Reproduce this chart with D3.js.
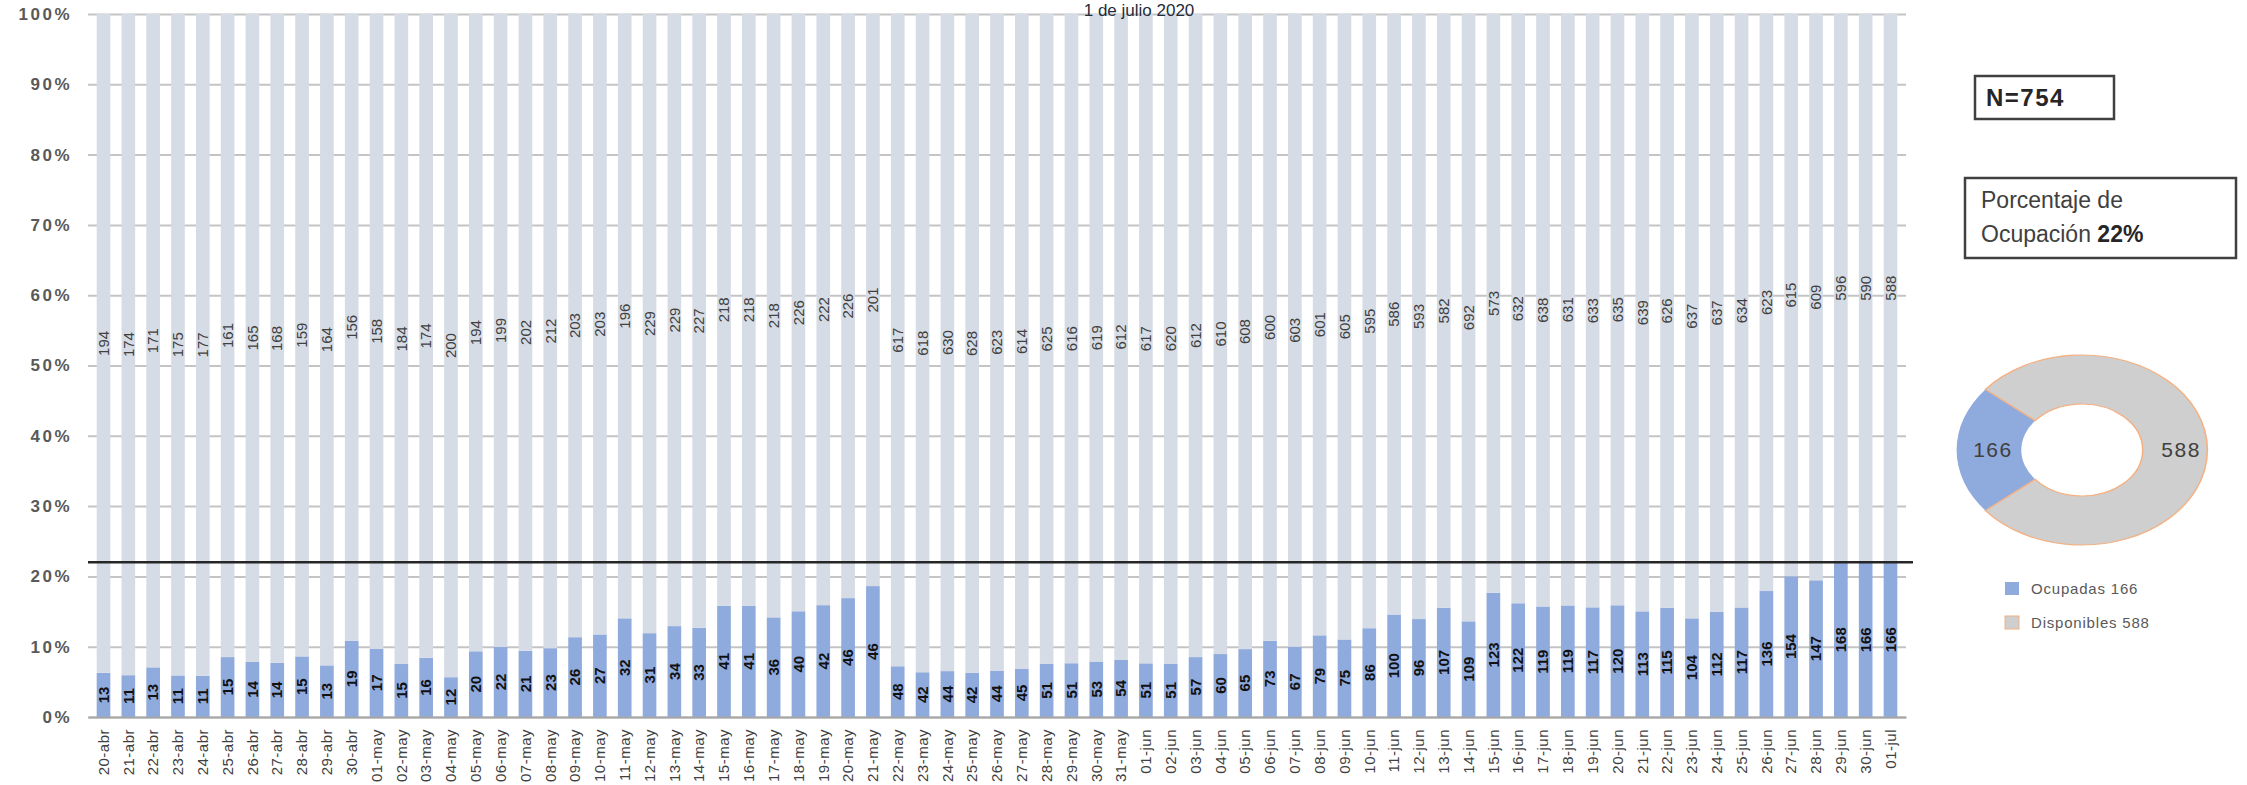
<!DOCTYPE html>
<html>
<head>
<meta charset="utf-8">
<script src="https://cdn.jsdelivr.net/npm/d3@7"></script>
<style>
  body { margin: 0; background: #fff; }
  text { font-family: "Liberation Sans", Arial, sans-serif; }
</style>
</head>
<body>
<div id="chart-wrapper"></div>
<script>
// Dates on the x axis
const fechas = [
  "20-abr","21-abr","22-abr","23-abr","24-abr","25-abr","26-abr","27-abr","28-abr","29-abr","30-abr",
  "01-may","02-may","03-may","04-may","05-may","06-may","07-may","08-may","09-may","10-may",
  "11-may","12-may","13-may","14-may","15-may","16-may","17-may","18-may","19-may","20-may",
  "21-may","22-may","23-may","24-may","25-may","26-may","27-may","28-may","29-may","30-may","31-may",
  "01-jun","02-jun","03-jun","04-jun","05-jun","06-jun","07-jun","08-jun","09-jun","10-jun",
  "11-jun","12-jun","13-jun","14-jun","15-jun","16-jun","17-jun","18-jun","19-jun","20-jun",
  "21-jun","22-jun","23-jun","24-jun","25-jun","26-jun","27-jun","28-jun","29-jun","30-jun",
  "01-jul"
];

// Occupied beds
const ocupadas = [
  13,11,13,11,11,15,14,14,15,13,19,
  17,15,16,12,20,22,21,23,26,27,
  32,31,34,33,41,41,36,40,42,46,
  46,48,42,44,42,44,45,51,51,53,54,
  51,51,57,60,65,73,67,79,75,86,
  100,96,107,109,123,122,119,119,117,120,
  113,115,104,112,117,136,154,147,168,166,
  166
];

// Available beds
const disponibles = [
  194,174,171,175,177,161,165,168,159,164,156,
  158,184,174,200,194,199,202,212,203,203,
  196,229,229,227,218,218,218,226,222,226,
  201,617,618,630,628,623,614,625,616,619,612,
  617,620,612,610,608,600,603,601,605,595,
  586,593,582,692,573,632,638,631,633,635,
  639,626,637,637,634,623,615,609,596,590,
  588
];

const yTicks = [0, 0.1, 0.2, 0.3, 0.4, 0.5, 0.6, 0.7, 0.8, 0.9, 1];
const titulo = "1 de julio 2020";

const colOcup = "#8faadc";
const colDisp = "#d6dce5";

const W = 2247, H = 785;
const x0 = 88, x1 = 1906, yTop = 14, yBot = 717;

const data = fechas.map((f, i) => ({ fecha: f, ocupadas: ocupadas[i], disponibles: disponibles[i] }));

const svg = d3.select("#chart-wrapper").append("svg")
  .attr("width", W)
  .attr("height", H);

const x = d3.scaleBand()
  .domain(fechas)
  .range([x0, x1])
  .paddingInner(0.45)
  .paddingOuter(0.35);

const y = d3.scaleLinear()
  .domain([0, 1])
  .range([yBot, yTop]);

// gridlines + y labels
const yAxis = svg.append("g")
  .attr("transform", `translate(${x0},0)`)
  .call(d3.axisLeft(y).tickValues(yTicks).tickFormat(d3.format(".0%")).tickSize(-(x1 - x0)).tickPadding(16));
yAxis.select(".domain").remove();
yAxis.selectAll(".tick line").attr("stroke", "#c4c4c4").attr("stroke-width", 2);
yAxis.selectAll(".tick text")
  .attr("fill", "#595959")
  .attr("font-size", 17)
  .attr("letter-spacing", 2.5)
  .attr("font-weight", "bold");

// stacked 100% bars
const series = d3.stack()
  .keys(["ocupadas", "disponibles"])
  .offset(d3.stackOffsetExpand)(data);

const colors = { ocupadas: colOcup, disponibles: colDisp };

svg.append("g").selectAll("g")
  .data(series)
  .enter().append("g")
  .attr("fill", s => colors[s.key])
  .selectAll("rect")
  .data(s => s)
  .enter().append("rect")
  .attr("x", d => x(d.data.fecha))
  .attr("y", d => y(d[1]))
  .attr("width", x.bandwidth())
  .attr("height", d => y(d[0]) - y(d[1]));

// value labels
series.forEach(s => {
  svg.append("g").selectAll("text")
    .data(s)
    .enter().append("text")
    .attr("transform", d => `translate(${x(d.data.fecha) + x.bandwidth() / 2},${y((d[0] + d[1]) / 2)}) rotate(-90)`)
    .attr("text-anchor", "middle")
    .attr("dy", "0.35em")
    .attr("font-size", 15)
    .attr("font-weight", s.key === "ocupadas" ? "bold" : "normal")
    .attr("fill", s.key === "ocupadas" ? "#111" : "#404040")
    .text(d => d.data[s.key]);
});

// x axis
const xAxis = svg.append("g")
  .attr("transform", `translate(0,${yBot})`)
  .call(d3.axisBottom(x).tickSize(0));
xAxis.select(".domain").attr("stroke", "#a6a6a6").attr("stroke-width", 2);
xAxis.selectAll(".tick text")
  .attr("transform", "rotate(-90)")
  .attr("text-anchor", "end")
  .attr("x", -12)
  .attr("y", 0)
  .attr("dy", "0.35em")
  .attr("font-size", 15)
  .attr("letter-spacing", 0.5)
  .attr("fill", "#404040");

// current occupancy line
const nLast = ocupadas[ocupadas.length - 1] + disponibles[disponibles.length - 1];
const pct = ocupadas[ocupadas.length - 1] / nLast;
svg.append("line")
  .attr("x1", x0).attr("x2", 1913)
  .attr("y1", y(pct)).attr("y2", y(pct))
  .attr("stroke", "#262626")
  .attr("stroke-width", 2.5);

// title
svg.append("text")
  .attr("x", 1139).attr("y", 16)
  .attr("text-anchor", "middle")
  .attr("font-size", 17)
  .attr("fill", "#1f2d3d")
  .text(titulo);

// N box
svg.append("rect")
  .attr("x", 1975).attr("y", 76).attr("width", 139).attr("height", 43)
  .attr("fill", "#fff").attr("stroke", "#404040").attr("stroke-width", 2.5);
svg.append("text")
  .attr("x", 1986).attr("y", 106)
  .attr("font-size", 24).attr("font-weight", "bold").attr("letter-spacing", 1.5).attr("fill", "#262626")
  .text("N=" + nLast);

// percentage box
svg.append("rect")
  .attr("x", 1965).attr("y", 178).attr("width", 271).attr("height", 80)
  .attr("fill", "#fff").attr("stroke", "#404040").attr("stroke-width", 2.5);
svg.append("text")
  .attr("x", 1981).attr("y", 208)
  .attr("font-size", 23).attr("fill", "#404040")
  .text("Porcentaje de");
const t2 = svg.append("text")
  .attr("x", 1981).attr("y", 242)
  .attr("font-size", 23).attr("fill", "#404040");
t2.append("tspan").text("Ocupación ");
t2.append("tspan").attr("font-weight", "bold").attr("fill", "#262626").text(Math.round(pct * 100) + "%");

// donut
const donutData = [
  { key: "Ocupadas", val: ocupadas[ocupadas.length - 1], color: colOcup },
  { key: "Disponibles", val: disponibles[disponibles.length - 1], color: "#cfcfcf" }
];
const a0 = -Math.PI / 2 - pct * Math.PI;
const pie = d3.pie().sort(null).value(d => d.val).startAngle(a0).endAngle(a0 + 2 * Math.PI);
const rOut = 95, rIn = 46, sx = 1.32;
const arc = d3.arc().innerRadius(rIn).outerRadius(rOut);
const cx = 2082, cy = 450;
const donut = svg.append("g").attr("transform", `translate(${cx},${cy}) scale(${sx},1)`);
donut.selectAll("path")
  .data(pie(donutData))
  .enter().append("path")
  .attr("d", arc)
  .attr("fill", d => d.data.color)
  .attr("stroke", d => d.data.key === "Disponibles" ? "#f4b183" : "none")
  .attr("stroke-width", 1.2);
svg.append("g").selectAll("text")
  .data(pie(donutData))
  .enter().append("text")
  .attr("x", d => cx + arc.centroid(d)[0] * sx + (d.data.key === "Ocupadas" ? 4 : 6))
  .attr("y", d => cy + arc.centroid(d)[1])
  .attr("text-anchor", "middle")
  .attr("dy", "0.35em")
  .attr("font-size", 21)
  .attr("letter-spacing", 1.5)
  .attr("fill", "#404040")
  .text(d => d.data.val);

// legend
const leg = svg.append("g").selectAll("g")
  .data(donutData)
  .enter().append("g")
  .attr("transform", (d, i) => `translate(2005,${582 + i * 34})`);
leg.append("rect")
  .attr("width", 14).attr("height", 13)
  .attr("fill", d => d.color)
  .attr("stroke", d => d.key === "Disponibles" ? "#f4b183" : "none");
leg.append("text")
  .attr("x", 26).attr("y", 12)
  .attr("font-size", 15).attr("letter-spacing", 0.8).attr("fill", "#595959")
  .text(d => d.key + " " + d.val);
</script>
</body>
</html>
